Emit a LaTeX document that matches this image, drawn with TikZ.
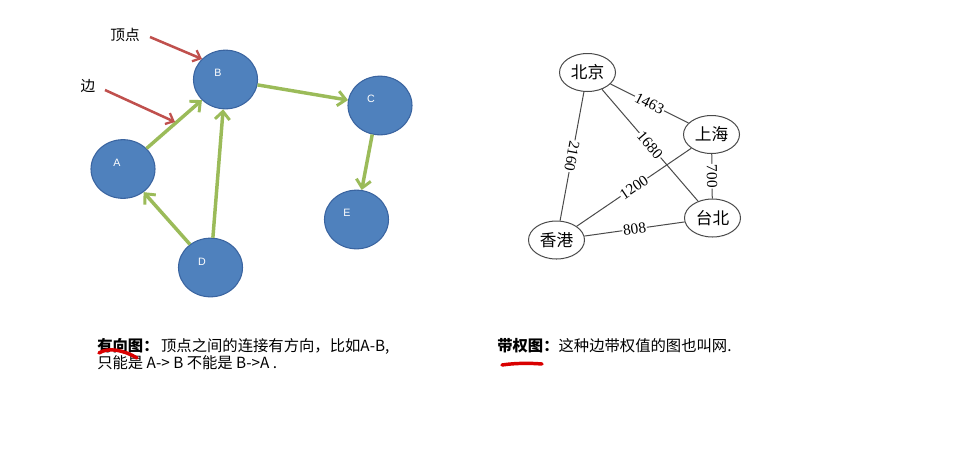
\documentclass[tikz,border=0pt]{standalone}
\usepackage{fontspec}
\setmainfont{Liberation Serif}
\newfontfamily\cjk{Noto Sans CJK SC}
\newfontfamily\lsans{Liberation Sans}
\usetikzlibrary{shapes.geometric,arrows.meta}
\definecolor{nodeblue}{HTML}{4F81BD}
\definecolor{nodeedge}{HTML}{3A64A0}
\definecolor{arrgreen}{HTML}{9BBB59}
\definecolor{arrred}{HTML}{C0504D}
\definecolor{edgegray}{HTML}{4A4A4A}
\begin{document}
\begin{tikzpicture}[x=0.75pt,y=-0.75pt,
  vtx/.style={ellipse, fill=nodeblue, draw=nodeedge, line width=0.8pt, minimum width=48pt, minimum height=44pt, inner sep=0pt},
  vlabel/.style={text=white, font=\lsans\fontsize{8}{9}\selectfont, inner sep=0pt},
  garrow/.style={draw=arrgreen, line width=2.6pt, -{Straight Barb[length=6pt,width=11pt,line width=2.2pt]}},
  rarrow/.style={draw=arrred, line width=1.9pt, -{Straight Barb[length=5pt,width=9pt,line width=1.7pt]}},
  anno/.style={font=\cjk\fontsize{11}{12}\selectfont, inner sep=0pt},
  city/.style={ellipse, draw=edgegray, line width=0.75pt, fill=white, minimum width=42pt, minimum height=28.5pt, inner sep=0pt, font=\cjk\fontsize{12.5}{13}\selectfont},
  cedge/.style={draw=edgegray, line width=0.75pt},
  wlabel/.style={fill=white, inner sep=0.6pt, font=\fontsize{11.5}{12}\selectfont, sloped},
  body/.style={font=\cjk\fontsize{11.5}{13}\selectfont, inner sep=0pt, anchor=base west},
  redmark/.style={draw=red!85!black, line width=2.6pt, line cap=round}
]
\fill[white] (0,0) rectangle (978,469);
\useasboundingbox (0,0) rectangle (978,469);

% ---------- directed graph ----------
\node[vtx] (B) at (225.5,79.5) {};
\node[vtx] (C) at (380,105.5) {};
\node[vtx] (A) at (123,169) {};
\node[vtx] (E) at (356.5,219.5) {};
\node[vtx] (D) at (210.5,267.5) {};

\node[vlabel] (Bl) at (218,73) {B};
\node[vlabel] (Cl) at (371,99) {C};
\node[vlabel] (Al) at (117,163) {A};
\node[vlabel] (El) at (347,213) {E};
\node[vlabel] (Dl) at (202,262) {D};

\draw[garrow] (B) -- (C);
\draw[garrow] (A) -- (B);
\draw[garrow] (D) -- (B);
\draw[garrow] (D) -- (A);
\draw[garrow] (C.-105) -- (E.80);

\node[anno] (vtxlab) at (125,35) {顶点};
\node[anno] (edglab) at (88,86) {边};
\coordinate (r1s) at (150,37);
\coordinate (r1e) at (202,59);
\coordinate (r2s) at (105,90);
\coordinate (r2e) at (175,122);
\draw[rarrow] (r1s) -- (r1e);
\draw[rarrow] (r2s) -- (r2e);

% ---------- weighted graph ----------
\node[city] (bj) at (587.5,72.5) {北京};
\node[city] (sh) at (711.5,134.5) {上海};
\node[city] (tb) at (712.5,218) {台北};
\node[city] (hk) at (556.5,240) {香港};

\draw[cedge] (bj) -- node[wlabel] {1463} (sh);
\draw[cedge] (bj) -- node[wlabel] {1680} (tb);
\draw[cedge] (bj) -- node[wlabel, allow upside down] {2160} (hk);
\draw[cedge] (hk) -- node[wlabel] {1200} (sh);
\draw[cedge] (sh) -- node[wlabel, allow upside down] {700} (tb);
\draw[cedge] (hk) -- node[wlabel] {808} (tb);

% ---------- captions ----------
\node[body] (t1) at (97,351) {\textbf{有向图：}\,顶点之间的连接有方向，比如A-B,};
\node[body] (t2) at (97,368) {只能是 A-> B 不能是 B->A .};
\node[body] (t3) at (497,351) {\textbf{带权图：}这种边带权值的图也叫网.};

\draw[redmark] (99,353) .. controls (108,347) and (124,350) .. (137,358);
\draw[redmark] (502,365) .. controls (515,363) and (530,363) .. (542,364);
\end{tikzpicture}
\end{document}
